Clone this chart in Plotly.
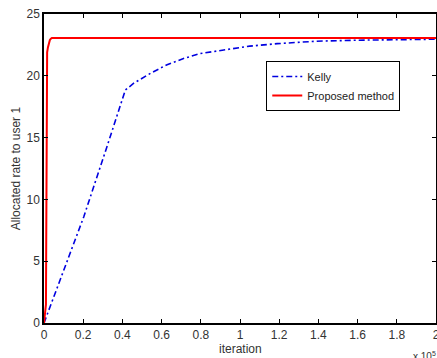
import plotly.graph_objects as go

# Kelly (x in iterations)
kelly_x = [0, 10000, 20300, 32200, 41500, 45800, 54300, 62800, 71200, 79700, 91600, 105000, 119000, 139000, 160000, 180000, 200000]
kelly_y = [0, 4.3, 8.6, 14.3, 18.85, 19.4, 20.2, 20.9, 21.4, 21.8, 22.1, 22.4, 22.6, 22.8, 22.88, 22.93, 22.96]

# Proposed method
prop_x = [0, 1000, 1150, 1250, 1300, 1400, 1600, 2000, 2500, 3000, 3500, 4000, 5000, 200000]
prop_y = [0, 1.5, 7.0, 16.5, 19.5, 21.0, 21.9, 22.3, 22.7, 22.9, 23.0, 23.05, 23.05, 23.05]

x_ticks = [0, 20000, 40000, 60000, 80000, 100000, 120000, 140000, 160000, 180000, 200000]
x_tick_text = ["0", "0.2", "0.4", "0.6", "0.8", "1", "1.2", "1.4", "1.6", "1.8", "2"]
y_ticks = [0, 5, 10, 15, 20, 25]

fig = go.Figure()
fig.add_trace(go.Scatter(x=kelly_x, y=kelly_y, mode="lines", name="Kelly",
                         line=dict(color="#0000e0", width=1.6, dash="6px,3px,2px,3px")))
fig.add_trace(go.Scatter(x=prop_x, y=prop_y, mode="lines", name="Proposed method",
                         line=dict(color="#ff0000", width=2)))

txt = "#333333"
ff = "Liberation Sans, Arial, sans-serif"
font = dict(family=ff, size=12, color=txt)
axis_common = dict(showline=True, linecolor="black", linewidth=1.5, mirror="ticks",
                   ticks="inside", ticklen=4, tickcolor="black", showgrid=False,
                   zeroline=False, tickfont=font, automargin=False)

fig.update_layout(
    width=437, height=358,
    margin=dict(l=44, r=1, t=14, b=35),
    paper_bgcolor="white", plot_bgcolor="white",
    font=font,
    xaxis=dict(range=[0, 200000], tickvals=x_ticks, ticktext=x_tick_text,
               ticklabeloverflow="allow", **axis_common),
    yaxis=dict(range=[0, 25], tickvals=y_ticks, **axis_common),
    legend=dict(x=0.567, y=0.848, xanchor="left", yanchor="top",
                bordercolor="black", borderwidth=1, bgcolor="white",
                font=dict(family=ff, size=11, color="#222222"),
                tracegroupgap=0, itemwidth=30),
    showlegend=True,
)
fig.add_annotation(text="iteration", xref="paper", yref="paper", x=0.502, y=-0.084,
                   xanchor="center", yanchor="middle", showarrow=False,
                   font=dict(family=ff, size=12, color=txt))
fig.add_annotation(text="Allocated rate to user 1", xref="paper", yref="paper",
                   x=-0.072, y=0.5, xanchor="center", yanchor="middle", textangle=-90,
                   showarrow=False,
                   font=dict(family=ff, size=12, color=txt))
fig.add_annotation(text="x 10<sup>5</sup>", xref="paper", yref="paper", x=1.005, y=-0.082,
                   xanchor="right", yanchor="top", showarrow=False,
                   font=dict(family=ff, size=10, color=txt))

fig.write_html("out.html", config={"displayModeBar": False},
               post_script="document.body.style.margin='0px';document.body.style.padding='0px';")
